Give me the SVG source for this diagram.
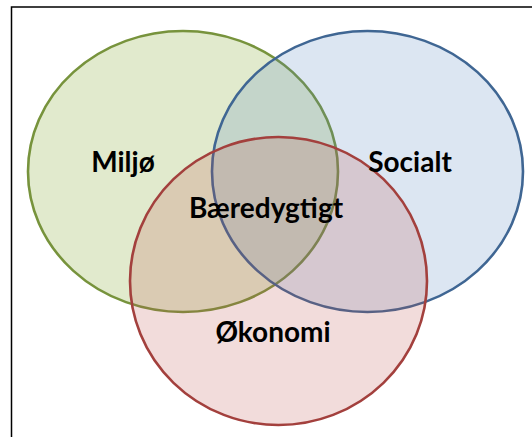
<svg xmlns="http://www.w3.org/2000/svg" width="532" height="437" viewBox="0 0 532 437">
<style>
.lbl{font-family:Lato,"Liberation Sans",sans-serif;font-weight:bold;font-size:28px;fill:#000;text-anchor:middle}
.c{stroke-width:2.6}
</style>
<rect x="0" y="0" width="532" height="437" fill="#fff"/>
<rect x="11.5" y="7" width="540" height="450" fill="none" stroke="#000" stroke-width="1.5"/>
<g id="miljo">
<ellipse class="c" cx="183" cy="171.5" rx="155" ry="140.5" fill="rgb(155,187,89)" fill-opacity="0.3" stroke="#77933C"/>
</g>
<g id="socialt">
<ellipse class="c" cx="367.5" cy="171.5" rx="155.5" ry="140.5" fill="rgb(79,129,189)" fill-opacity="0.2" stroke="#3F6693"/>
</g>
<g id="okonomi">
<ellipse class="c" cx="278.5" cy="281" rx="148.5" ry="144" fill="rgb(192,80,77)" fill-opacity="0.2" stroke="#A3403D"/>
</g>
<g id="labels">
<text class="lbl" x="123" y="172">Miljø</text>
<text class="lbl" x="410" y="172">Socialt</text>
<text class="lbl" x="266" y="218">Bæredygtigt</text>
<text class="lbl" x="273" y="342">Økonomi</text>
</g>
</svg>
